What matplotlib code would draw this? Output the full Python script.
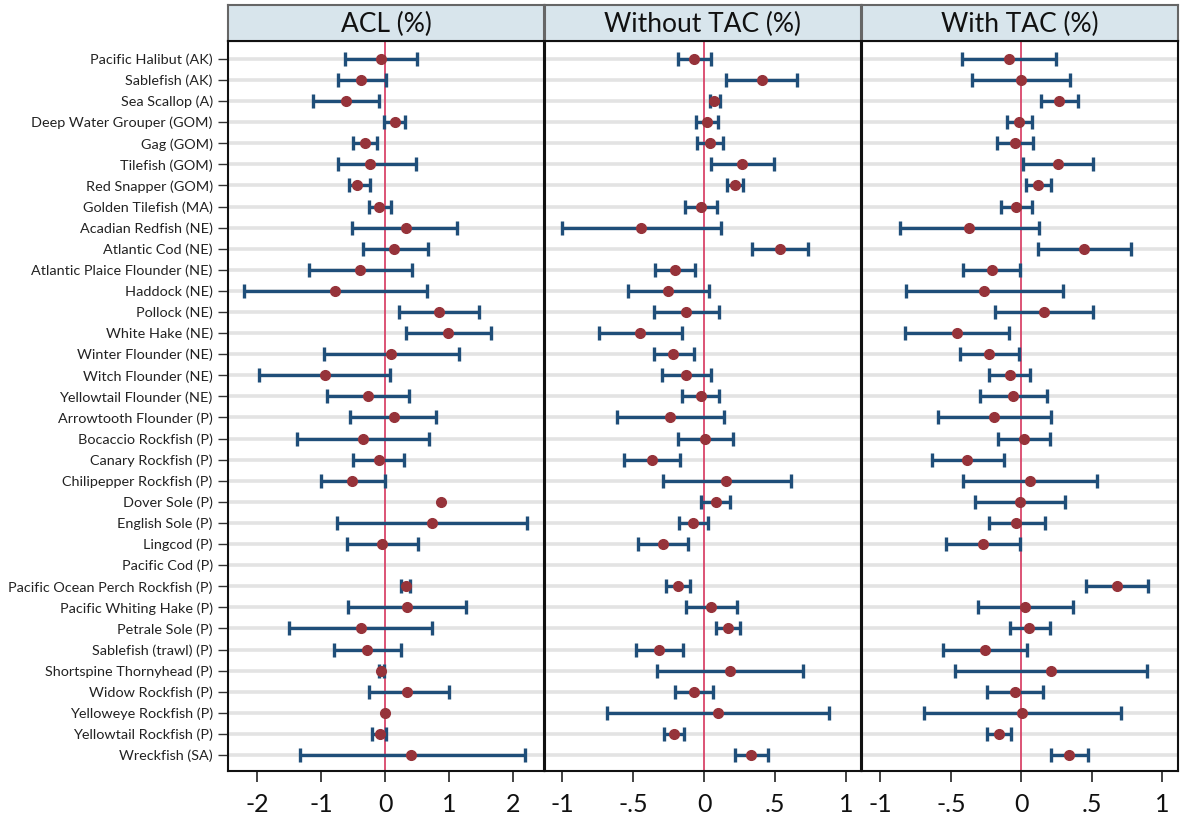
import numpy as np
import matplotlib
matplotlib.use("Agg")
import matplotlib.pyplot as plt

plt.rcParams['font.family'] = ['Lato', 'DejaVu Sans']

species = [
    "Pacific Halibut (AK)", "Sablefish (AK)", "Sea Scallop (A)",
    "Deep Water Grouper (GOM)", "Gag (GOM)", "Tilefish (GOM)",
    "Red Snapper (GOM)", "Golden Tilefish (MA)", "Acadian Redfish (NE)",
    "Atlantic Cod (NE)", "Atlantic Plaice Flounder (NE)", "Haddock (NE)",
    "Pollock (NE)", "White Hake (NE)", "Winter Flounder (NE)",
    "Witch Flounder (NE)", "Yellowtail Flounder (NE)", "Arrowtooth Flounder (P)",
    "Bocaccio Rockfish (P)", "Canary Rockfish (P)", "Chilipepper Rockfish (P)",
    "Dover Sole (P)", "English Sole (P)", "Lingcod (P)", "Pacific Cod (P)",
    "Pacific Ocean Perch Rockfish (P)", "Pacific Whiting Hake (P)",
    "Petrale Sole (P)", "Sablefish (trawl) (P)", "Shortspine Thornyhead (P)",
    "Widow Rockfish (P)", "Yelloweye Rockfish (P)", "Yellowtail Rockfish (P)",
    "Wreckfish (SA)",
]

nan = np.nan

# ACL (%): point estimate with lower / upper interval bounds
acl_est = [-0.07, -0.37, -0.61, 0.155, -0.32, -0.24, -0.43, -0.09, 0.32, 0.14,
           -0.39, -0.78, 0.84, 0.98, 0.09, -0.94, -0.26, 0.135, -0.35, -0.09,
           -0.51, 0.87, 0.73, -0.05, nan, 0.33, 0.34, -0.37, -0.28, -0.07,
           0.35, 0.0, -0.08, 0.41]
acl_lo = [-0.63, -0.74, -1.12, -0.01, -0.50, -0.73, -0.57, -0.25, -0.51, -0.35,
          -1.19, -2.20, 0.22, 0.32, -0.95, -1.96, -0.90, -0.54, -1.37, -0.50,
          -1.00, 0.87, -0.75, -0.60, nan, 0.25, -0.58, -1.50, -0.80, -0.10,
          -0.25, 0.0, -0.21, -1.33]
acl_hi = [0.50, 0.01, -0.09, 0.31, -0.13, 0.49, -0.24, 0.09, 1.13, 0.67,
          0.42, 0.66, 1.47, 1.65, 1.15, 0.08, 0.37, 0.80, 0.69, 0.29,
          0.0, 0.87, 2.22, 0.51, nan, 0.39, 1.26, 0.73, 0.25, -0.01,
          1.00, 0.0, 0.015, 2.18]

# Without TAC (%)
wo_est = [-0.073, 0.407, 0.073, 0.021, 0.044, 0.264, 0.218, -0.023, -0.444, 0.536,
          -0.204, -0.257, -0.126, -0.454, -0.218, -0.126, -0.023, -0.239, 0.007, -0.365,
          0.157, 0.082, -0.077, -0.290, nan, -0.185, 0.047, 0.166, -0.318, 0.182,
          -0.070, 0.096, -0.211, 0.332]
wo_lo = [-0.185, 0.157, 0.044, -0.056, -0.047, 0.049, 0.164, -0.136, -1.001, 0.339,
         -0.342, -0.536, -0.351, -0.739, -0.353, -0.299, -0.157, -0.613, -0.182, -0.561,
         -0.292, -0.019, -0.175, -0.468, nan, -0.269, -0.126, 0.087, -0.482, -0.332,
         -0.204, -0.683, -0.281, 0.215]
wo_hi = [0.049, 0.653, 0.115, 0.096, 0.136, 0.489, 0.274, 0.091, 0.117, 0.734,
         -0.061, 0.035, 0.105, -0.154, -0.070, 0.051, 0.108, 0.143, 0.201, -0.166,
         0.611, 0.182, 0.030, -0.115, nan, -0.096, 0.232, 0.255, -0.150, 0.697,
         0.065, 0.877, -0.138, 0.449]

# With TAC (%)
wt_est = [-0.091, -0.002, 0.265, -0.019, -0.047, 0.260, 0.117, -0.035, -0.370, 0.447,
          -0.211, -0.267, 0.159, -0.454, -0.227, -0.082, -0.061, -0.192, 0.016, -0.384,
          0.061, -0.007, -0.035, -0.272, nan, 0.677, 0.023, 0.056, -0.258, 0.211,
          -0.047, 0.005, -0.162, 0.337]
wt_lo = [-0.424, -0.351, 0.141, -0.105, -0.173, 0.009, 0.035, -0.148, -0.864, 0.115,
         -0.412, -0.817, -0.187, -0.822, -0.436, -0.230, -0.295, -0.590, -0.169, -0.637,
         -0.412, -0.328, -0.230, -0.534, nan, 0.457, -0.307, -0.080, -0.553, -0.468,
         -0.244, -0.693, -0.244, 0.208]
wt_hi = [0.244, 0.344, 0.398, 0.077, 0.082, 0.508, 0.208, 0.073, 0.122, 0.780,
         -0.007, 0.293, 0.508, -0.089, -0.016, 0.061, 0.178, 0.208, 0.204, -0.124,
         0.539, 0.311, 0.169, -0.007, nan, 0.895, 0.365, 0.201, 0.037, 0.888,
         0.150, 0.707, -0.077, 0.475]

titles = ["ACL (%)", "Without TAC (%)", "With TAC (%)"]
xlims = [(-2.45, 2.48), (-1.12, 1.105), (-1.13, 1.11)]
xticks = [[-2, -1, 0, 1, 2], [-1, -0.5, 0, 0.5, 1], [-1, -0.5, 0, 0.5, 1]]
xticklabels = [["-2", "-1", "0", "1", "2"],
               ["-1", "-.5", "0", ".5", "1"],
               ["-1", "-.5", "0", ".5", "1"]]
series = [(acl_est, acl_lo, acl_hi), (wo_est, wo_lo, wo_hi), (wt_est, wt_lo, wt_hi)]

W, H = 1184, 818
fig = plt.figure(figsize=(W / 100, H / 100), dpi=100)
fig.patch.set_facecolor("white")

panel_x = [(228, 544), (545, 861), (862, 1178)]
top_head, top_plot, bottom_plot = 5, 41, 771

bar_color = "#1f4e79"
dot_color = "#96333a"
zero_color = "#d9456a"
grid_color = "#e3e3e3"

y = np.arange(len(species))

for i, ((x0, x1), title, (est, lo, hi)) in enumerate(zip(panel_x, titles, series)):
    ax = fig.add_axes([x0 / W, 1 - bottom_plot / H, (x1 - x0) / W,
                       (bottom_plot - top_plot) / H])
    est = np.array(est, dtype=float)
    lo = np.array(lo, dtype=float)
    hi = np.array(hi, dtype=float)

    for yy in y:
        ax.axhline(yy, color=grid_color, lw=2.6, zorder=0)
    ax.axvline(0, color=zero_color, lw=1.3, zorder=1)

    has_bar = ~np.isnan(lo) & (hi - lo > 1e-6)
    ax.hlines(y[has_bar], lo[has_bar], hi[has_bar], color=bar_color, lw=2.4, zorder=2)
    ax.plot(lo[has_bar], y[has_bar], linestyle="none", marker="|", ms=10,
            mew=2.4, color=bar_color, zorder=2)
    ax.plot(hi[has_bar], y[has_bar], linestyle="none", marker="|", ms=10,
            mew=2.4, color=bar_color, zorder=2)
    ax.plot(est, y, linestyle="none", marker="o", ms=7, color=dot_color,
            mec=dot_color, zorder=3)

    ax.set_xlim(*xlims[i])
    ax.set_ylim(len(species) - 1 + 0.76, -0.85)
    ax.set_xticks(xticks[i])
    ax.set_xticklabels(xticklabels[i], fontsize=18, color="#111111")
    ax.tick_params(axis="x", direction="out", length=8, width=1.2, pad=8,
                   color="#222222")
    if i == 0:
        ax.set_yticks(y)
        ax.set_yticklabels(species, fontsize=10.4, color="#222222")
        ax.tick_params(axis="y", direction="out", length=7, width=1.0,
                       color="#333333", pad=4)
    else:
        ax.set_yticks([])
    for s in ax.spines.values():
        s.set_color("#111111")
        s.set_linewidth(1.5)

    hax = fig.add_axes([x0 / W, 1 - top_plot / H, (x1 - x0) / W,
                        (top_plot - top_head) / H])
    hax.set_facecolor("#d8e5ec")
    hax.set_xticks([])
    hax.set_yticks([])
    for name, s in hax.spines.items():
        s.set_linewidth(1.5)
        s.set_color("#111111" if name == "bottom" else "#666666")
    hax.text(0.5, 0.45, title, ha="center", va="center", fontsize=19,
             color="#111111", transform=hax.transAxes)

fig.savefig("out.png", dpi=100, facecolor="white")
